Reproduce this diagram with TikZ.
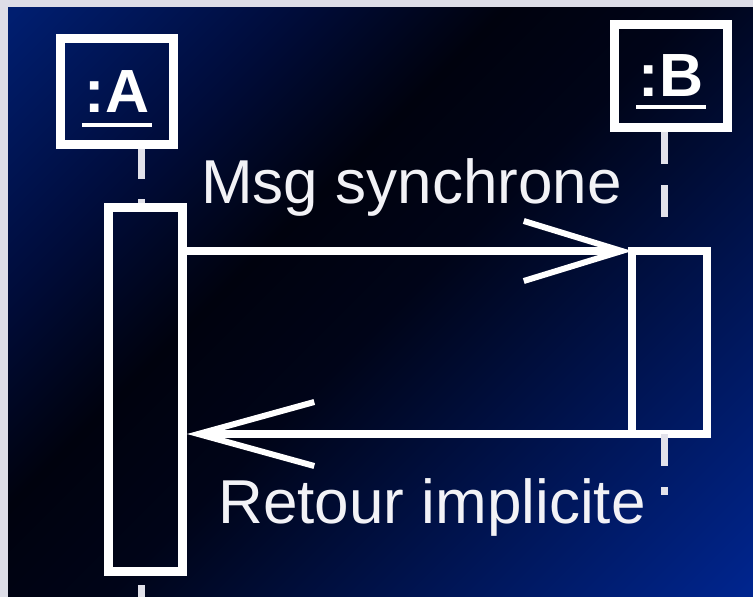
\documentclass[tikz,border=0pt]{standalone}
\usepackage{fontspec}
\setmainfont{Liberation Sans}
\usetikzlibrary{arrows.meta}

\definecolor{framegray}{RGB}{221,221,231}
\definecolor{bgnavy}{RGB}{0,30,112}
\definecolor{bgmid}{RGB}{0,12,58}
\definecolor{bgdark}{RGB}{0,2,14}
\definecolor{bgdark2}{RGB}{0,4,24}
\definecolor{bgblue}{RGB}{0,37,142}
\definecolor{lifegray}{RGB}{226,226,234}
\definecolor{labelwhite}{RGB}{242,242,246}

% diagonal background: navy -> black -> blue
\pgfdeclarehorizontalshading{diagbg}{100bp}{%
  color(0bp)=(bgnavy); color(15bp)=(bgnavy); color(30bp)=(bgmid);
  color(41bp)=(bgdark); color(51bp)=(bgdark2);
  color(85bp)=(bgblue); color(100bp)=(bgblue)}

\tikzset{
  headbox/.style={draw=white, line width=9pt, inner sep=0pt, text=white,
    font=\fontsize{61}{61}\selectfont\bfseries},
  actbox/.style={draw=white, inner sep=0pt},
  uline/.style={draw=white, line width=4pt},
  lifeline/.style={draw=lifegray, line width=7pt},
  msg/.style={draw=white, line width=8pt},
  msglabel/.style={text=labelwhite, inner sep=0pt,
    font=\fontsize{62}{62}\selectfont},
}

\begin{document}
\begin{tikzpicture}[x=1pt, y=-1pt]
  \useasboundingbox (0,0) rectangle (753,597);
  \fill[framegray] (0,0) rectangle (753,597);
  \shade[shading=diagbg, shading angle=-45] (8,7) rectangle (753,597);

  % object heads
  \node[headbox, minimum width=113pt, minimum height=106pt] (headA) at (117,91.5) {:A};
  \node[headbox, minimum width=113pt, minimum height=103pt] (headB) at (671,76) {:B};
  \draw[uline] ([shift={(-35,33.5)}]headA.center) -- ++(70,0);
  \draw[uline] ([shift={(-35,31)}]headB.center) -- ++(70,0);

  % activation bars
  \node[actbox, line width=9pt, minimum width=74pt, minimum height=364pt] (actA) at (145.5,389.5) {};
  \node[actbox, line width=8pt, outer sep=0pt, minimum width=75pt, minimum height=183pt] (actB) at (669.5,342.5) {};

  \coordinate (endA) at (141.5,597);
  \coordinate (endB) at (664,495);

  % lifelines
  \draw[lifeline, dash pattern=on 30pt off 20pt]
    ([xshift=24.5pt]headA.south) -- ([xshift=-4pt]actA.north);
  \draw[lifeline, dash pattern=on 30pt off 20pt, dash phase=41pt]
    ([xshift=-4pt]actA.south) -- (endA);
  \draw[lifeline, dash pattern=on 32pt off 21pt, shorten >=33pt]
    ([xshift=-7pt]headB.south) -- ([xshift=-5.5pt]actB.north);
  \draw[lifeline, dash pattern=on 32pt off 21pt]
    ([xshift=-5.5pt]actB.south) -- (endB);

  % messages
  \draw[msg, -{Straight Barb[length=98pt, width=60pt, line width=6pt 0 1]}]
    (actA.east |- actB.north west) -- (actB.north west);
  \draw[msg, -{Straight Barb[length=116pt, width=64pt, line width=6pt 0 1]}]
    (actB.south west) -- (actA.east |- actB.south west);

  \node[msglabel, anchor=base] (lblSync) at (411.5,203) {Msg synchrone};
  \node[msglabel, anchor=base] (lblRet) at (432,523) {Retour implicite};
\end{tikzpicture}
\end{document}
